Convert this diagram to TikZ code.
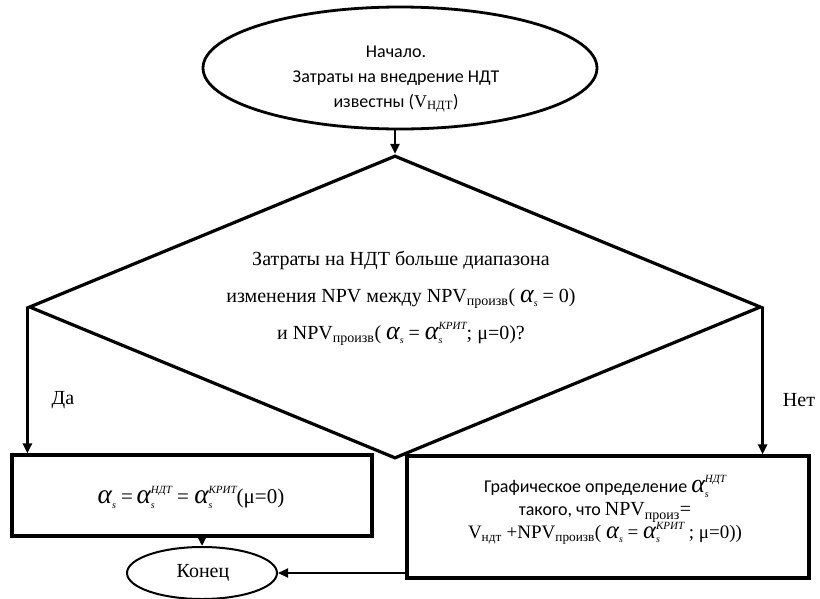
\documentclass[tikz,border=0pt]{standalone}
\usepackage{fontspec}
\setmainfont{Liberation Serif}
\newfontfamily\calfont{Carlito}
\newfontfamily\tnr{Liberation Serif}
\usetikzlibrary{shapes.geometric,arrows.meta}
\newcommand{\bigal}{{\tnr\itshape\scalebox{1.3}{α}}}
\newcommand{\alp}[1]{\bigal\rlap{\raisebox{-0.45ex}{\tnr\fontsize{10}{10}\selectfont\itshape s}}\raisebox{1.1ex}{\tnr\fontsize{11}{11}\selectfont\itshape #1}}
\newcommand{\als}{\bigal\raisebox{-0.45ex}{\tnr\fontsize{10}{10}\selectfont\itshape s}}
\begin{document}
\begin{tikzpicture}[x=1pt,y=-1pt,line join=miter]
\useasboundingbox (0,0) rectangle (820,598);
\tikzset{
 startel/.style={ellipse, draw, line width=2.8pt, minimum width=394pt, minimum height=122pt, inner sep=0pt},
 dia/.style={diamond, draw, line width=3.2pt, minimum width=732pt, minimum height=303pt, inner sep=0pt, aspect=2.4},
 boxa/.style={rectangle, draw, line width=3.2pt, inner sep=0pt},
 endel/.style={ellipse, draw, line width=2pt, minimum width=150pt, minimum height=52pt, inner sep=0pt},
 arr/.style={line width=2.6pt, -{Triangle[length=10pt,width=9pt]}},
 arrthin/.style={line width=2pt, -{Triangle[length=10pt,width=9pt]}},
 lbl/.style={font=\fontsize{20}{24}\selectfont}
}
\node[startel] (start) at (400,68) {};
\node[align=center, font=\calfont\fontsize{18}{25}\selectfont] (starttxt) at (396,79)
  {Начало.\\Затраты на внедрение НДТ\\известны ({\tnr V\textsubscript{НДТ}})};
\node[dia] (dec) at (395,307) {};
\node[align=center, font=\fontsize{20}{37}\selectfont] (dectxt) at (401,298)
  {Затраты на НДТ больше диапазона\\
   изменения NPV между NPV\textsubscript{произв}( \als{} = 0)\\
   и NPV\textsubscript{произв}( \als{} = \alp{КРИТ}; μ=0)?};
\node[boxa, minimum width=360pt, minimum height=81pt] (yes) at (192,495.5) {};
\node[font=\fontsize{21}{24}\selectfont] (yestxt) at (191,497)
  {\als{} =\,\alp{НДТ} = \alp{КРИТ}(μ=0)};
\node[boxa, minimum width=402pt, minimum height=122pt] (no) at (608,517) {};
\node[align=center, font=\calfont\fontsize{18}{23}\selectfont] (notxt) at (605,510)
  {Графическое определение {\tnr\fontsize{20}{23}\selectfont\alp{НДТ}}\\
   такого, что {\tnr\fontsize{20}{23}\selectfont NPV\textsubscript{произ}=}\\
   {\tnr\fontsize{19}{23}\selectfont V\textsubscript{ндт} +NPV\textsubscript{произв}( \als{} = \alp{КРИТ} ; μ=0))}};
\node[endel] (end) at (202,573) {};
\node[font=\fontsize{20}{24}\selectfont] (endtxt) at (203,573) {Конец};
\node[lbl] (da) at (63,400) {Да};
\node[lbl] (net) at (799,400) {Нет};
\draw[arr] (dec.north |- start.south) -- (dec.north);
\draw[arr] (dec.west) -- (dec.west |- yes.north);
\draw[arr] (dec.east) -- (dec.east |- no.north);
\draw[arr] (end.north |- yes.south) -- (end.north);
\draw[arrthin] (no.west |- end.east) -- (end.east);
\end{tikzpicture}
\end{document}
